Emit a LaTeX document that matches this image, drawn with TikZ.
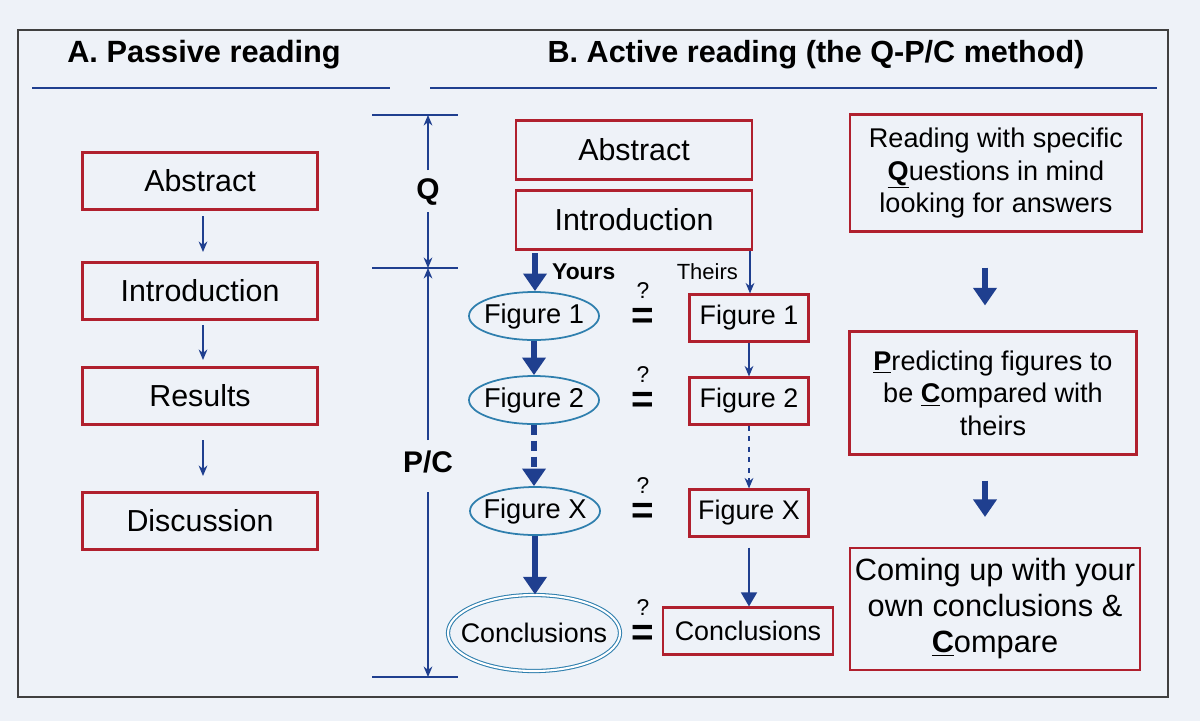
\documentclass[tikz,border=0pt]{standalone}
\usepackage{fontspec}
\setmainfont{Liberation Sans}
\usetikzlibrary{arrows.meta,shapes.geometric}
\definecolor{bg}{HTML}{EEF2F8}
\definecolor{rb}{HTML}{B0202E}
\definecolor{db}{HTML}{1F3F8F}
\definecolor{eb}{HTML}{2F7FAE}
\tikzset{
 rbox/.style={draw=rb,line width=1.2pt,inner sep=0pt},
 ell/.style={draw=eb,line width=1pt,ellipse,inner sep=0pt},
 thin/.style={draw=db,line width=0.8pt,-{Stealth[length=6pt,width=5pt]}},
 thick/.style={draw=db,line width=3pt,-{Triangle[length=10pt,width=13pt]}},
 mid/.style={draw=db,line width=1.3pt,-{Triangle[length=8pt,width=9pt]}},
 bar/.style={draw=db,line width=0.8pt},
 efont/.style={font=\fontsize{15.5}{16}\selectfont},
}
\begin{document}
\begin{tikzpicture}[x=0.02cm,y=-0.02cm]
\fill[bg] (0,0) rectangle (1200,721);
\useasboundingbox (0,0) rectangle (1200,721);
\draw[black!75,line width=1pt] (18,30) rectangle (1168,697);
% titles
\node[font=\fontsize{17.5}{18}\selectfont\bfseries] (ta) at (204,55) {A. Passive reading};
\node[font=\fontsize{17.4}{18}\selectfont\bfseries] (tb) at (816,55) {B. Active reading (the Q-P/C method)};
\draw[db,line width=1pt] (32,88) -- (390,88);
\draw[db,line width=1pt] (430,88) -- (1157,88);
% left column
\begin{scope}[every node/.style={rbox,minimum height=57*0.02cm,minimum width=235*0.02cm,font=\fontsize{17.3}{18}\selectfont}]
\node (la) at (200,181) {Abstract};
\node (li) at (200,291) {Introduction};
\node (lr) at (200,396) {Results};
\node (ld) at (200,521) {Discussion};
\end{scope}
\draw[thin] (203,216) -- (203,252);
\draw[thin] (203,325) -- (203,360);
\draw[thin] (203,440) -- (203,476);
% bracket
\draw[bar] (372,115) -- (458,115);
\draw[bar] (372,268) -- (458,268);
\draw[bar] (372,677) -- (458,677);
\node[font=\fontsize{17}{17}\selectfont\bfseries] (q) at (428,192) {Q};
\node[font=\fontsize{17}{17}\selectfont\bfseries] (pc) at (428,462) {P/C};
\draw[thin] (428,170) -- (428,115);
\draw[thin] (428,212) -- (428,268);
\draw[thin] (428,440) -- (428,268);
\draw[thin] (428,492) -- (428,677);
% middle
\begin{scope}[every node/.style={rbox,minimum height=59*0.02cm,minimum width=236*0.02cm,font=\fontsize{17.3}{18}\selectfont}]
\node (ma) at (634,150) {Abstract};
\node (mi) at (634,220) {Introduction};
\end{scope}
\begin{scope}[every node/.style={ell,minimum width=130*0.02cm,minimum height=48*0.02cm}]
\node[label={[efont]center:Figure 1}] (y1) at (534,316) {};
\node[label={[efont]center:Figure 2}] (y2) at (534,400) {};
\node[label={[efont]center:Figure X}] (yx) at (535,511) {};
\end{scope}
\node[ell,double,double distance=1.2pt,line width=0.6pt,minimum width=172*0.02cm,minimum height=76*0.02cm,label={[font=\fontsize{15.3}{16}\selectfont]center:Conclusions}] (yc) at (534,633) {};
\begin{scope}[every node/.style={rbox,minimum height=47*0.02cm,minimum width=119*0.02cm,font=\fontsize{15.3}{16}\selectfont}]
\node (t1) at (749,318) {Figure 1};
\node (t2) at (749,401) {Figure 2};
\node (tx) at (749,513) {Figure X};
\node[minimum width=170*0.02cm] (tc) at (748,631) {Conclusions};
\end{scope}
\foreach \n/\yy in {e1/316,e2/400,ex/511,ec/633}{
 \node[font=\fontsize{22}{22}\selectfont\bfseries,inner sep=0pt] (\n) at (643,\yy+2) {=};
 \node[font=\fontsize{13}{13}\selectfont,inner sep=0pt] (\n q) at (643,\yy-25) {?};
}
\node[font=\fontsize{13}{13}\selectfont\bfseries,anchor=west] (yl) at (546,272) {Yours};
\node[font=\fontsize{12.5}{13}\selectfont,anchor=east] (tl) at (744,272) {Theirs};
\coordinate (ys) at (535,253);
\draw[thick] (ys) -- (ys |- y1.north);
\draw[thick] (y1.south) -- (y2.north);
\draw[thick,dash pattern=on 6pt off 3pt] (y2.south) -- (y2.south |- yx.north);
\draw[thick] (yx.south) -- (yx.south |- yc.north);
\coordinate (ts) at (750,251);
\draw[thin] (ts) -- (ts |- t1.north);
\draw[thin] (t1.south) -- (t2.north);
\draw[thin,dashed] (t2.south) -- (tx.north);
\coordinate (tb2) at ([yshift=-0.2cm]tx.south);
\draw[mid] (tb2) -- (tb2 |- tc.north);
% right text boxes
\node[rbox,minimum width=292*0.02cm,minimum height=117*0.02cm,font=\fontsize{15.4}{18.5}\selectfont,align=center] (r1) at (996,173) {Reading with specific\\\underline{\textbf{Q}}uestions in mind\\looking for answers};
\node[rbox,minimum width=287*0.02cm,minimum height=123*0.02cm,font=\fontsize{15.4}{18.5}\selectfont,align=center] (r2) at (993,393) {\underline{\textbf{P}}redicting figures to\\be \underline{\textbf{C}}ompared with\\theirs};
\node[rbox,minimum width=290*0.02cm,minimum height=122*0.02cm,font=\fontsize{17.5}{20.5}\selectfont,align=center] (r3) at (995,609) {Coming up with your\\own conclusions \&\\\underline{\textbf{C}}ompare};
\draw[thick] ([yshift=-0.7cm]r1.south -| 985,0) -- ([yshift=0.5cm]r2.north -| 985,0);
\draw[thick] ([yshift=-0.5cm]r2.south -| 985,0) -- ([yshift=0.6cm]r3.north -| 985,0);
\end{tikzpicture}
\end{document}
